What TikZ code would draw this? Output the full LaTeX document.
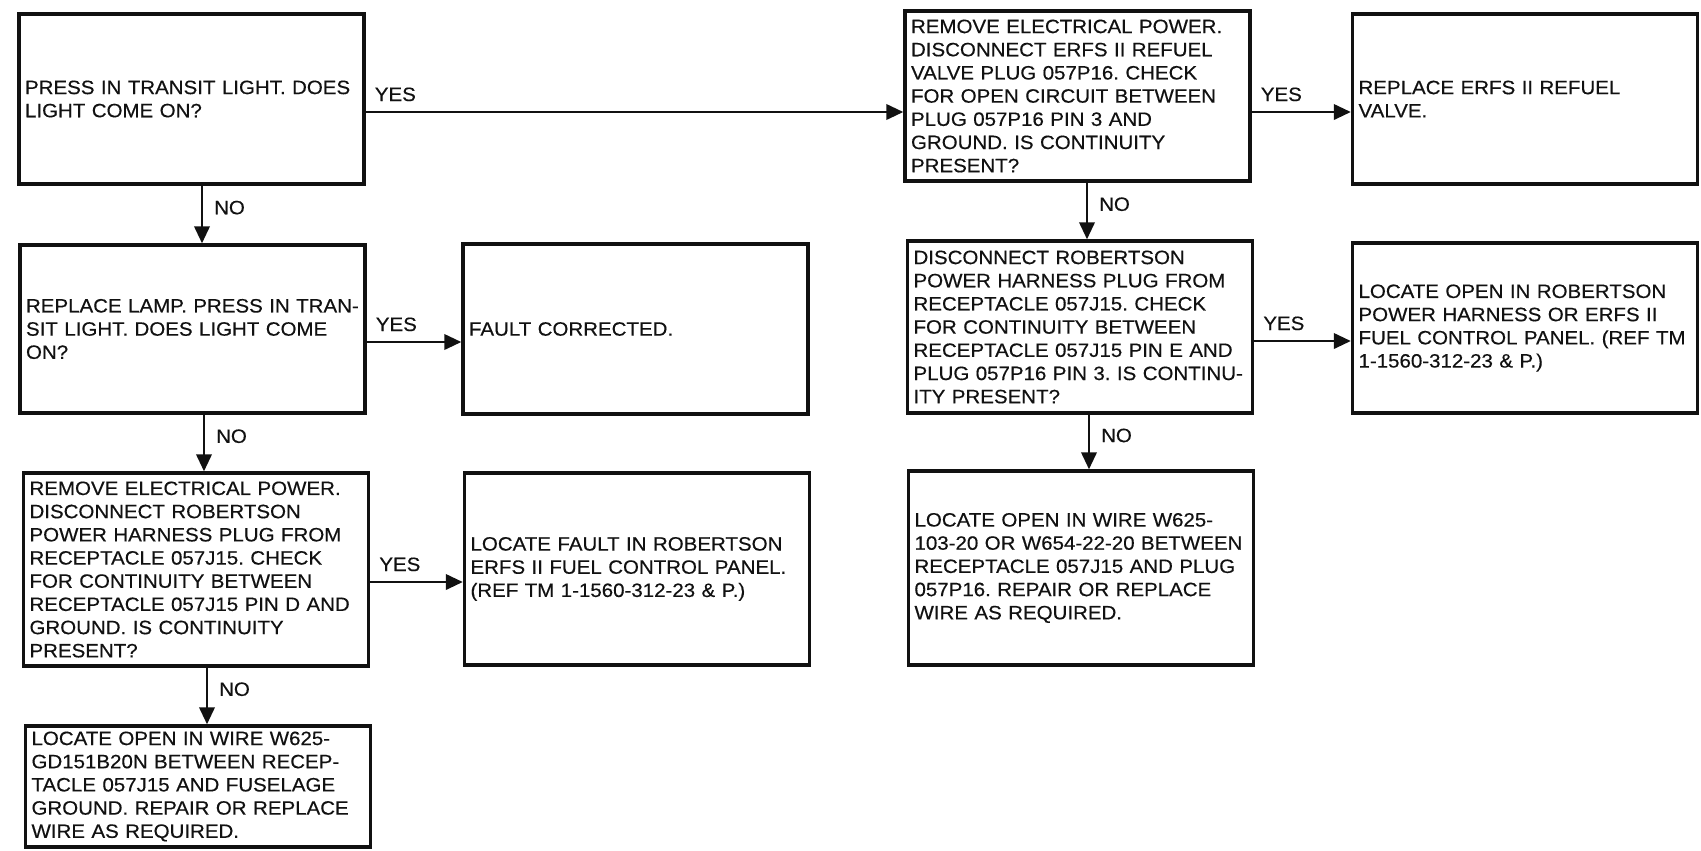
\documentclass[tikz,border=0pt]{standalone}
\usepackage{fontspec}
\setmainfont[FakeStretch=1.06,FakeBold=0.4]{Liberation Sans}
\usepackage{tikz}
\usetikzlibrary{arrows.meta,positioning}
\definecolor{ink}{HTML}{111111}
\frenchspacing
\tikzset{
  every node/.style={font=\fontsize{11}{13.2}\selectfont,text=ink,inner sep=0pt},
  stepbox/.style={draw=ink,line width=2pt,fill=white,align=left,inner xsep=1.2mm,inner ysep=.8mm,
    text width=66.6mm,minimum height=#1},
  stepbox/.default=34mm,
  flow/.style={-{Triangle[length=3.4mm,width=3.1mm]},line width=1.3pt,draw=ink},
  yestag/.style={anchor=base west,xshift=1.6mm,yshift=2.2mm},
  notag/.style={anchor=west,xshift=2.2mm},
}

\begin{document}
\begin{tikzpicture}[x=0.02cm,y=-0.02cm]
\path[use as bounding box] (0,0) rectangle (1701,850);
\fill[white] (0,0) rectangle (1701,850);
% Left column: lamp check, then the Robertson receptacle.
\node[stepbox] (light) at (191.5,99) {PRESS IN TRANSIT LIGHT. DOES\\LIGHT COME ON?};
\node[stepbox=33.6mm] (lamp) at (192.5,329) {REPLACE LAMP. PRESS IN TRAN-\\SIT LIGHT. DOES LIGHT COME\\ON?};
\node[stepbox] (fixed) at (635.5,329) {FAULT CORRECTED.};
\node[stepbox=38.6mm] (pind) at (196,569.5) {REMOVE ELECTRICAL POWER.\\DISCONNECT ROBERTSON\\POWER HARNESS PLUG FROM\\RECEPTACLE 057J15. CHECK\\FOR CONTINUITY BETWEEN\\RECEPTACLE 057J15 PIN D AND\\GROUND. IS CONTINUITY\\PRESENT?};
\node[stepbox=38.4mm] (panel) at (637,569) {LOCATE FAULT IN ROBERTSON\\ERFS II FUEL CONTROL PANEL.\\(REF TM 1-1560-312-23 \& P.)};
\node[stepbox=24.2mm] (gndwire) at (198,786.5) {LOCATE OPEN IN WIRE W625-\\GD151B20N BETWEEN RECEP-\\TACLE 057J15 AND FUSELAGE\\GROUND. REPAIR OR REPLACE\\WIRE AS REQUIRED.};
% Right column: refuel valve plug and harness continuity.
\node[stepbox] (valvechk) at (1077.5,96) {REMOVE ELECTRICAL POWER.\\DISCONNECT ERFS II REFUEL\\VALVE PLUG 057P16. CHECK\\FOR OPEN CIRCUIT BETWEEN\\PLUG 057P16 PIN 3 AND\\GROUND. IS CONTINUITY\\PRESENT?};
\node[stepbox] (valve) at (1525,99) {REPLACE ERFS II REFUEL\\VALVE.};
\node[stepbox=34.4mm] (pine) at (1080,327) {DISCONNECT ROBERTSON\\POWER HARNESS PLUG FROM\\RECEPTACLE 057J15. CHECK\\FOR CONTINUITY BETWEEN\\RECEPTACLE 057J15 PIN E AND\\PLUG 057P16 PIN 3. IS CONTINU-\\ITY PRESENT?};
\node[stepbox] (harness) at (1525,328) {LOCATE OPEN IN ROBERTSON\\POWER HARNESS OR ERFS II\\FUEL CONTROL PANEL. (REF TM\\1-1560-312-23 \& P.)};
\node[stepbox=38.8mm] (wire) at (1081,568) {LOCATE OPEN IN WIRE W625-\\103-20 OR W654-22-20 BETWEEN\\RECEPTACLE 057J15 AND PLUG\\057P16. REPAIR OR REPLACE\\WIRE AS REQUIRED.};
% YES branches run right.
\draw[flow] (light.east |- 0,112) -- (valvechk.west |- 0,112) node[yestag,pos=0] {YES};
\draw[flow] (lamp.east |- 0,342) -- (fixed.west |- 0,342) node[yestag,pos=0] {YES};
\draw[flow] (pind.east |- 0,582) -- (panel.west |- 0,582) node[yestag,pos=0] {YES};
\draw[flow] (valvechk.east |- 0,112) -- (valve.west |- 0,112) node[yestag,pos=0] {YES};
\draw[flow] (pine.east |- 0,341) -- (harness.west |- 0,341) node[yestag,pos=0] {YES};
% NO branches run down.
\draw[flow] (light.south -| 202,0) -- (lamp.north -| 202,0) node[notag,pos=.38] {NO};
\draw[flow] (lamp.south -| 204,0) -- (pind.north -| 204,0) node[notag,pos=.38] {NO};
\draw[flow] (pind.south -| 207,0) -- (gndwire.north -| 207,0) node[notag,pos=.38] {NO};
\draw[flow] (valvechk.south -| 1087,0) -- (pine.north -| 1087,0) node[notag,pos=.38] {NO};
\draw[flow] (pine.south -| 1089,0) -- (wire.north -| 1089,0) node[notag,pos=.38] {NO};
\end{tikzpicture}
\end{document}
